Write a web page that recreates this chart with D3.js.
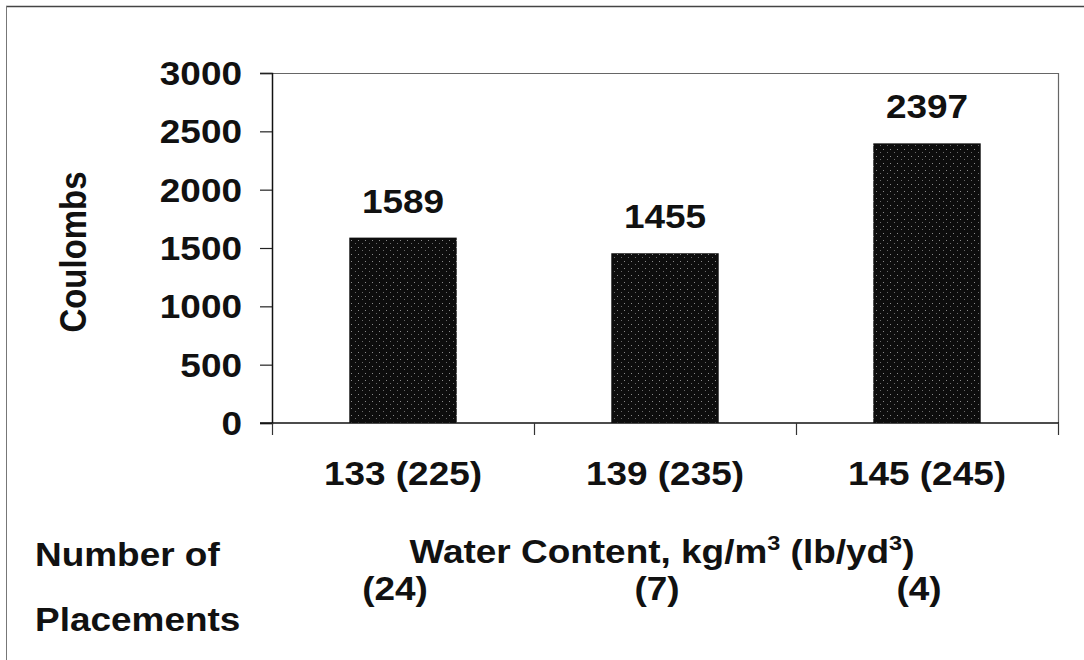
<!DOCTYPE html>
<html>
<head>
<meta charset="utf-8">
<script src="https://cdn.jsdelivr.net/npm/d3@7"></script>
<style>
  html, body { margin: 0; padding: 0; background: #fff; }
  svg text { font-family: "Liberation Sans", Arial, sans-serif; font-weight: bold; fill: #111; }
</style>
</head>
<body>
<svg id="chart" width="1084" height="660"></svg>
<script>
// Rapid chloride permeability by water content
const categories = ["133 (225)", "139 (235)", "145 (245)"];
const coulombs = [1589, 1455, 2397];
const placements = ["(24)", "(7)", "(4)"];
const yTicks = [0, 500, 1000, 1500, 2000, 2500, 3000];

const svg = d3.select("#chart");
const W = 1084, H = 660;
const plot = { left: 272, right: 1058, top: 73, bottom: 423 };
const FS = 33;      // label font size
const SX = 1.12;    // horizontal stretch of the lettering

// horizontal text placed at (x, y), stretched sideways by SX
function label(parent, x, y, str, anchor) {
  return parent.append("text")
    .attr("transform", `translate(${x},${y}) scale(${SX},1)`)
    .attr("text-anchor", anchor || "start")
    .style("font-size", FS + "px")
    .text(str);
}

// stippled dark fill for the bars
const defs = svg.append("defs");
const pat = defs.append("pattern")
  .attr("id", "stipple").attr("patternUnits", "userSpaceOnUse")
  .attr("width", 7).attr("height", 7);
pat.append("rect").attr("width", 7).attr("height", 7).attr("fill", "#0d0d0d");
pat.append("rect").attr("x", 1).attr("y", 2).attr("width", 1).attr("height", 1).attr("fill", "#8a8a8a");
pat.append("rect").attr("x", 5).attr("y", 5).attr("width", 1).attr("height", 1).attr("fill", "#6a6a6a");

// outer frame (top and left edges)
svg.append("line").attr("x1", 6).attr("y1", 6.5).attr("x2", W).attr("y2", 6.5)
  .attr("stroke", "#444").attr("stroke-width", 1.5);
svg.append("line").attr("x1", 6.5).attr("y1", 6).attr("x2", 6.5).attr("y2", H)
  .attr("stroke", "#777").attr("stroke-width", 1);

const x = d3.scaleBand().domain(categories).range([plot.left, plot.right]).padding(0);
const y = d3.scaleLinear().domain([0, 3000]).range([plot.bottom, plot.top]);
const barW = x.bandwidth() * 0.41;
const cx = c => x(c) + x.bandwidth() / 2;

// plot area border (top and right)
svg.append("path")
  .attr("d", `M${plot.left},${plot.top + 0.5}H${plot.right + 0.5}V${plot.bottom}`)
  .attr("fill", "none").attr("stroke", "#666").attr("stroke-width", 1.2);

// bars
svg.append("g").selectAll("rect").data(coulombs).join("rect")
  .attr("x", (d, i) => cx(categories[i]) - barW / 2)
  .attr("y", d => y(d))
  .attr("width", barW)
  .attr("height", d => y(0) - y(d))
  .attr("fill", "url(#stipple)");

// value labels
const vals = svg.append("g");
coulombs.forEach((d, i) => label(vals, cx(categories[i]), y(d) - 25, d, "middle"));

// y axis (lines from d3.axisLeft, labels stretched)
const yAxis = svg.append("g").attr("transform", `translate(${plot.left},0)`)
  .call(d3.axisLeft(y).tickValues(yTicks).tickSize(12).tickFormat(""));
yAxis.select(".domain").attr("stroke", "#111").attr("stroke-width", 1.5);
yAxis.selectAll(".tick line").attr("stroke", "#222").attr("stroke-width", 1.2);
const yLab = svg.append("g");
yTicks.forEach(t => label(yLab, 242, y(t) + 12, d3.format("d")(t), "end"));

// x axis: ticks at category boundaries
const xAxisG = svg.append("g").attr("transform", `translate(0,${plot.bottom})`);
xAxisG.append("line").attr("x1", plot.left - 12).attr("x2", plot.right + 1)
  .attr("stroke", "#111").attr("stroke-width", 1.5);
const bounds = categories.map(c => x(c)).concat([plot.right]);
xAxisG.selectAll("line.tk").data(bounds).join("line").attr("class", "tk")
  .attr("x1", d => d + 0.5).attr("x2", d => d + 0.5).attr("y1", 0).attr("y2", 12)
  .attr("stroke", "#333").attr("stroke-width", 1.2);
const xLab = svg.append("g");
categories.forEach(c => label(xLab, cx(c), 485, c, "middle"));

// y axis title (rotated, lettering stretched across the page like the rest)
svg.append("text")
  .attr("transform", `translate(86,252) scale(${SX},1) rotate(-90)`)
  .attr("text-anchor", "middle")
  .style("font-size", "33px")
  .text("Coulombs");

// x axis title with superscripts
const xt = label(svg, 662, 563, "", "middle");
xt.append("tspan").text("Water Content, kg/m");
xt.append("tspan").attr("dy", -13).style("font-size", "21px").text("3");
xt.append("tspan").attr("dy", 13).text(" (lb/yd");
xt.append("tspan").attr("dy", -13).style("font-size", "21px").text("3");
xt.append("tspan").attr("dy", 13).text(")");

// placement counts
label(svg, 35, 566, "Number of");
label(svg, 35, 631, "Placements");
const cnt = svg.append("g");
placements.forEach((p, i) => label(cnt, cx(categories[i]) - 8, 600, p, "middle"));
</script>
</body>
</html>
